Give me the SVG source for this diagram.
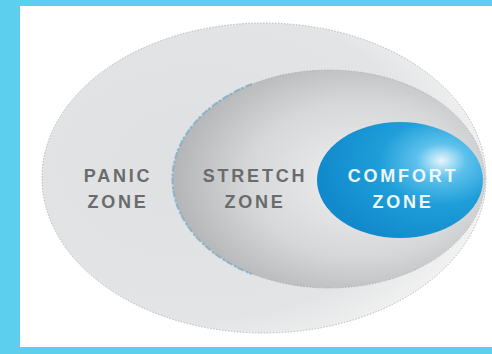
<svg xmlns="http://www.w3.org/2000/svg" width="492" height="354" viewBox="0 0 492 354">
<defs>
<style>
.lbl{font-family:"Liberation Sans",Arial,sans-serif;font-weight:bold;font-size:18px;letter-spacing:2.8px;text-anchor:middle}
.gray{fill:#6a6b6d}
.white{fill:#eef7fb}
.dots{fill:none;stroke:#a9aaac;stroke-width:0.8;stroke-dasharray:1.5 1.5}
</style>
<radialGradient id="gOuter" cx="0.35" cy="0.45" r="0.72">
<stop offset="0" stop-color="#dfe0e1"/>
<stop offset="0.7" stop-color="#e3e4e5"/>
<stop offset="1" stop-color="#f7f7f7"/>
</radialGradient>
<radialGradient id="gMid" cx="0.6" cy="0.5" r="0.6">
<stop offset="0" stop-color="#f0f0f1"/>
<stop offset="0.6" stop-color="#d6d7d8"/>
<stop offset="1" stop-color="#b4b5b7"/>
</radialGradient>
<radialGradient id="gComf" cx="0.75" cy="0.35" r="0.75" fx="0.75" fy="0.33">
<stop offset="0" stop-color="#e6f5fc"/>
<stop offset="0.2" stop-color="#5dc1ec"/>
<stop offset="0.5" stop-color="#1e9ed9"/>
<stop offset="1" stop-color="#1189cc"/>
</radialGradient>
</defs>
<rect x="0" y="0" width="492" height="354" fill="#5dcfee"/>
<rect x="20" y="6" width="472" height="341" fill="#ffffff"/>
<g id="panic">
<ellipse cx="264" cy="178" rx="222" ry="155" fill="url(#gOuter)"/>
<ellipse class="dots" cx="264" cy="178" rx="222" ry="155"/>
<text class="lbl gray" x="118" y="182">PANIC</text>
<text class="lbl gray" x="118" y="208">ZONE</text>
</g>
<g id="stretch">
<ellipse cx="329" cy="179" rx="156" ry="109" fill="url(#gMid)"/>
<path d="M252,84 A156,109 0 0 0 252,274" fill="none" stroke="#78aeca" stroke-width="2" stroke-dasharray="7 2 3 1" opacity="0.85"/>
<ellipse class="dots" cx="329" cy="179" rx="156" ry="109"/>
<text class="lbl gray" x="255" y="182">STRETCH</text>
<text class="lbl gray" x="255" y="208">ZONE</text>
</g>
<g id="comfort">
<ellipse cx="400" cy="180" rx="83" ry="58" fill="url(#gComf)"/>
<text class="lbl white" x="403" y="182">COMFORT</text>
<text class="lbl white" x="403" y="208">ZONE</text>
</g>
<g id="connectors"/>
</svg>
